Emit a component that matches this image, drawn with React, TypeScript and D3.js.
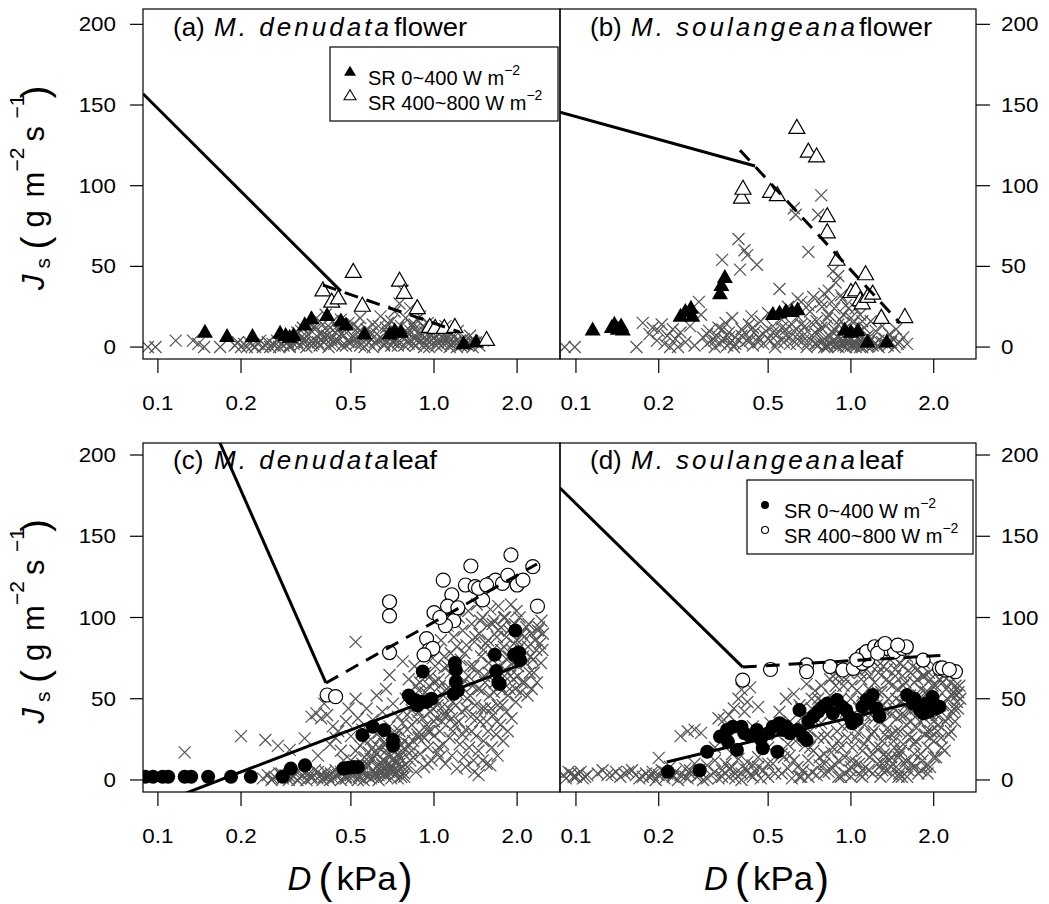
import React from 'react';
import * as d3 from 'd3';

type Pt = [number, number];

const FONT = "'Liberation Sans', Arial, Helvetica, sans-serif";

const yTicks = [0, 50, 100, 150, 200];
const xTicks = [0.1, 0.2, 0.5, 1.0, 2.0];
const xTickLabels = ['0.1', '0.2', '0.5', '1.0', '2.0'];

// ---------- (a) M. denudata flower ----------
const aCross: Pt[] = [
  [0.092, 0], [0.098, 0], [0.116, 4], [0.134, 4], [0.14, 2], [0.147, 0], [0.168, 0],
  [0.19, 1], [0.195, 3], [0.2, 0], [0.205, 2], [0.21, 0], [0.214, 3], [0.22, 1], [0.225, 0], [0.23, 2], [0.235, 4], [0.24, 0], [0.245, 1], [0.25, 3], [0.255, 0], [0.26, 2], [0.265, 1], [0.27, 4], [0.275, 0], [0.28, 2], [0.285, 1],
  [0.29, 5], [0.295, 3], [0.3, 0], [0.305, 7], [0.31, 2], [0.315, 4], [0.32, 9], [0.325, 1], [0.33, 6], [0.335, 12], [0.34, 3], [0.345, 0], [0.35, 8], [0.355, 15], [0.36, 4], [0.365, 2], [0.37, 11], [0.375, 18], [0.38, 6], [0.385, 1], [0.39, 9], [0.395, 14], [0.4, 3], [0.405, 20], [0.41, 7], [0.415, 0], [0.42, 12], [0.425, 5], [0.43, 16], [0.435, 2], [0.44, 9], [0.445, 13], [0.45, 4], [0.46, 17], [0.465, 1], [0.47, 7], [0.48, 11], [0.49, 3], [0.5, 6], [0.51, 14], [0.52, 2], [0.53, 9], [0.54, 18], [0.55, 4], [0.56, 0], [0.57, 11], [0.58, 6], [0.6, 14], [0.61, 3], [0.62, 8], [0.64, 19], [0.65, 5], [0.66, 1], [0.67, 12], [0.69, 7], [0.7, 16], [0.71, 3], [0.72, 22], [0.73, 9], [0.74, 1], [0.75, 27], [0.76, 13], [0.77, 35], [0.78, 5], [0.79, 18], [0.8, 9], [0.81, 2], [0.82, 24], [0.83, 14], [0.84, 6], [0.85, 11], [0.86, 1], [0.87, 17], [0.88, 8], [0.9, 4], [0.91, 13], [0.92, 0], [0.93, 9], [0.95, 15], [0.96, 3], [0.98, 7], [1.0, 11], [1.02, 1], [1.04, 5], [1.06, 9], [1.08, 2], [1.1, 13], [1.12, 6], [1.14, 0], [1.16, 8], [1.19, 3], [1.22, 10], [1.25, 1], [1.28, 5], [1.31, 2], [1.35, 7], [1.38, 0], [1.42, 3], [1.46, 1], [1.5, 4],
];
const aCrossDense: Pt[] = [
  [0.3, 1], [0.32, 3], [0.34, 5], [0.36, 1], [0.38, 3], [0.4, 6], [0.42, 2], [0.44, 4], [0.46, 8], [0.48, 1], [0.5, 3], [0.52, 5], [0.54, 1], [0.56, 7], [0.58, 3], [0.6, 0], [0.62, 4], [0.64, 6], [0.66, 2], [0.68, 9], [0.7, 1], [0.72, 5], [0.74, 3], [0.76, 7], [0.78, 1], [0.8, 4], [0.82, 10], [0.84, 2], [0.86, 6], [0.88, 3], [0.9, 8], [0.92, 2], [0.94, 5], [0.96, 0], [0.98, 4], [1.0, 6], [1.03, 3], [1.06, 1], [1.09, 5], [1.12, 3], [1.15, 2], [1.18, 6], [1.21, 0], [1.24, 4], [1.27, 2], [1.3, 3], [1.33, 1], [1.36, 4],
  [0.33, 10], [0.37, 13], [0.41, 10], [0.45, 11], [0.49, 15], [0.53, 12], [0.59, 9], [0.63, 13], [0.68, 15], [0.74, 12], [0.79, 10], [0.85, 14], [0.89, 19], [0.94, 11], [1.05, 8], [1.1, 7],
];
const aFill: Pt[] = [
  [0.148, 9], [0.178, 6.5], [0.22, 6.5], [0.277, 8.5], [0.29, 7], [0.3, 6], [0.31, 7], [0.34, 13.5], [0.36, 17.5], [0.41, 19.5], [0.46, 16], [0.48, 13.5], [0.56, 8], [0.69, 8], [0.72, 10], [0.76, 9], [1.28, 2], [1.42, 3],
];
const aOpen: Pt[] = [
  [0.396, 35], [0.426, 28], [0.45, 30], [0.51, 46.5], [0.55, 25.5], [0.75, 41], [0.78, 33.5], [0.87, 24], [0.965, 12.4], [1.01, 11.8], [1.09, 11.8], [1.19, 12.4], [1.55, 4.3],
];
const aSolid: Pt[] = [[0.0883, 157], [0.46, 34.7]];
const aDash: Pt[] = [[0.396, 38.4], [1.24, 9.3]];

// ---------- (b) M. soulangeana flower ----------
const bCross: Pt[] = [
  [0.091, 0], [0.099, 0], [0.166, 0], [0.175, 15], [0.185, 8], [0.19, 12], [0.197, 4], [0.2, 10], [0.205, 14], [0.21, 2], [0.215, 7], [0.22, 0], [0.225, 11], [0.23, 5], [0.235, 0], [0.24, 9],
  [0.25, 3], [0.26, 13], [0.27, 1], [0.28, 28], [0.285, 20], [0.29, 6], [0.3, 2], [0.305, 10], [0.31, 4], [0.32, 0], [0.325, 7], [0.33, 12], [0.335, 2], [0.34, 54], [0.345, 5], [0.35, 15], [0.355, 1], [0.36, 9], [0.365, 3], [0.37, 18], [0.375, 0], [0.38, 6], [0.39, 67], [0.395, 48], [0.4, 11], [0.405, 2], [0.41, 60], [0.415, 8], [0.42, 57], [0.425, 14], [0.43, 4], [0.435, 19], [0.44, 1], [0.445, 9], [0.455, 51], [0.46, 6], [0.47, 16], [0.48, 2], [0.49, 10], [0.5, 21], [0.51, 4], [0.52, 13], [0.53, 0], [0.54, 8], [0.55, 36], [0.56, 17], [0.57, 3], [0.58, 11], [0.59, 25], [0.6, 6], [0.61, 14], [0.62, 86], [0.63, 82], [0.635, 2], [0.64, 19], [0.65, 9], [0.66, 28], [0.67, 4], [0.68, 13], [0.69, 0], [0.7, 59], [0.71, 22], [0.72, 7], [0.73, 31], [0.74, 2], [0.75, 16], [0.76, 82], [0.77, 10], [0.78, 94], [0.785, 25], [0.79, 4], [0.8, 33], [0.81, 13], [0.82, 1], [0.83, 20], [0.84, 6], [0.85, 28], [0.86, 47], [0.87, 11], [0.88, 40], [0.89, 3], [0.9, 44], [0.91, 17], [0.92, 8], [0.93, 30], [0.94, 1], [0.96, 12], [0.98, 24], [1.0, 5], [1.02, 15], [1.04, 0], [1.06, 9], [1.08, 20], [1.1, 3], [1.12, 12], [1.15, 7], [1.18, 16], [1.2, 1], [1.23, 10], [1.26, 4], [1.3, 13], [1.34, 2], [1.38, 8], [1.42, 5], [1.46, 11], [1.5, 3], [1.55, 6], [1.6, 2],
  [0.85, 2], [0.9, 0], [0.95, 3], [1.0, 1], [1.05, 2], [1.1, 0], [1.15, 2], [1.25, 1], [0.8, 0], [0.75, 2],
];
const bCrossDense: Pt[] = [
  [0.76, 1], [0.78, 3], [0.8, 5], [0.82, 0], [0.84, 2], [0.86, 4], [0.88, 1], [0.9, 6], [0.92, 2], [0.94, 4], [0.96, 0], [0.98, 3], [1.0, 5], [1.02, 1], [1.04, 3], [1.06, 6], [1.08, 0], [1.1, 2], [1.12, 4], [1.14, 1], [1.16, 3], [1.18, 5], [1.22, 2], [1.26, 0], [1.3, 3], [1.33, 5], [1.36, 1], [1.4, 3], [1.44, 0], [1.48, 2],
  [0.3, 8], [0.32, 4], [0.34, 11], [0.36, 6], [0.38, 2], [0.4, 7], [0.42, 4], [0.44, 12], [0.46, 3], [0.48, 8], [0.5, 5], [0.52, 9], [0.54, 3], [0.56, 12], [0.58, 7], [0.6, 2], [0.62, 10], [0.64, 5], [0.66, 14], [0.68, 8], [0.7, 3], [0.72, 15], [0.74, 9], [0.78, 12], [0.82, 18], [0.86, 9], [0.9, 14], [0.94, 20], [0.97, 7], [1.03, 10], [0.92, 32], [0.96, 26], [1.0, 18], [1.04, 24], [1.1, 16], [0.87, 24], [0.83, 35], [0.78, 28], [0.7, 26], [0.64, 30],
];
const bFill: Pt[] = [
  [0.115, 10.5], [0.135, 12], [0.138, 14], [0.142, 11], [0.146, 13], [0.148, 10.5], [0.24, 19], [0.25, 22], [0.262, 24], [0.265, 19], [0.334, 33], [0.338, 38], [0.348, 43], [0.52, 20], [0.55, 21], [0.58, 22], [0.61, 22], [0.64, 23], [0.95, 10.5], [1.0, 9], [1.06, 10], [1.15, 3], [1.35, 3],
];
const bOpen: Pt[] = [
  [0.4, 92.5], [0.405, 98], [0.51, 96], [0.54, 94], [0.636, 135.7], [0.7, 121], [0.75, 118], [0.82, 81], [0.82, 71], [0.89, 54], [1.0, 34], [1.04, 35], [1.08, 29], [1.1, 27], [1.13, 45], [1.15, 31], [1.2, 33], [1.29, 18], [1.57, 18.5],
];
const bSolid: Pt[] = [[0.0875, 145.6], [0.448, 112.2]];
const bDash: Pt[] = [[0.395, 122], [1.507, 14.9]];

// ---------- (c) M. denudata leaf ----------
const cCross: Pt[] = [
  [0.125, 17], [0.2, 27], [0.245, 24.6], [0.272, 21], [0.3, 18.5], [0.34, 25.6],
  [0.24, 1], [0.25, 3], [0.258, 0], [0.265, 2], [0.275, 4], [0.283, 1], [0.29, 3], [0.298, 0], [0.31, 2], [0.318, 5], [0.327, 1], [0.335, 3], [0.345, 0], [0.352, 4], [0.36, 2], [0.37, 6], [0.378, 1], [0.388, 3], [0.395, 0], [0.405, 5], [0.414, 2], [0.423, 4], [0.432, 1], [0.44, 6], [0.45, 3], [0.46, 0], [0.47, 5], [0.48, 2], [0.49, 7], [0.5, 1], [0.51, 4], [0.52, 8], [0.535, 2], [0.545, 5], [0.555, 0], [0.565, 3], [0.575, 9], [0.59, 1], [0.6, 6], [0.615, 3], [0.63, 0], [0.64, 4], [0.655, 7], [0.67, 2], [0.685, 5], [0.7, 1], [0.72, 3], [0.74, 6], [0.76, 2], [0.78, 4],
  [0.36, 39], [0.375, 41], [0.39, 38], [0.41, 40], [0.4, 47], [0.43, 33], [0.44, 26], [0.45, 30], [0.46, 18], [0.47, 12], [0.38, 15], [0.42, 22], [0.48, 36], [0.49, 44], [0.5, 27],
  [0.52, 50], [0.52, 85], [0.53, 38], [0.54, 21], [0.55, 31], [0.56, 14], [0.57, 44], [0.58, 9], [0.59, 25], [0.6, 37], [0.61, 17], [0.62, 52], [0.63, 29], [0.64, 11], [0.65, 42], [0.66, 22], [0.67, 56], [0.68, 15], [0.69, 64.6], [0.69, 33], [0.7, 19], [0.71, 47], [0.72, 13], [0.73, 26], [0.74, 39], [0.75, 10], [0.76, 21], [0.77, 73], [0.77, 35], [0.58, 17], [0.62, 8], [0.66, 12], [0.7, 9], [0.74, 16],
  [0.6, 13], [0.63, 20], [0.65, 5], [0.67, 18], [0.69, 7], [0.71, 24], [0.73, 4], [0.75, 14], [0.77, 8], [0.79, 19], [0.72, 28],
  [0.79, 50], [0.8, 31], [0.81, 62], [0.82, 12], [0.83, 43], [0.84, 24], [0.85, 70], [0.86, 5], [0.87, 37], [0.88, 55], [0.89, 16], [0.9, 28], [0.91, 48], [0.92, 8], [0.93, 66], [0.94, 34], [0.95, 20], [0.96, 58], [0.97, 42], [0.98, 12], [0.99, 75], [1.0, 27], [1.01, 50], [1.02, 38], [1.03, 17], [1.04, 62], [1.05, 30], [1.06, 86], [1.07, 45], [1.08, 22], [1.09, 69], [1.1, 10], [0.8, 40], [0.83, 18], [0.86, 58], [0.88, 26], [0.9, 66], [0.93, 45], [0.95, 10], [0.97, 30], [1.0, 60], [1.03, 80], [1.05, 14], [1.08, 52],
  [1.11, 40], [1.12, 95], [1.13, 57], [1.14, 26], [1.15, 78], [1.16, 15], [1.17, 48], [1.18, 88], [1.19, 34], [1.2, 65], [1.21, 7], [1.22, 53], [1.23, 100], [1.24, 22], [1.25, 74], [1.26, 42], [1.27, 92], [1.28, 14], [1.29, 61], [1.3, 31], [1.31, 83], [1.32, 50], [1.33, 104], [1.34, 20], [1.35, 70], [1.36, 39], [1.37, 96], [1.38, 58], [1.39, 12], [1.4, 85], [1.41, 46], [1.42, 27], [1.43, 108], [1.44, 66], [1.45, 18], [1.46, 90], [1.47, 36], [1.48, 76], [1.49, 55], [1.5, 100], [1.51, 24], [1.52, 64], [1.53, 44], [1.54, 84], [1.55, 10], [1.56, 95], [1.57, 30], [1.58, 72], [1.59, 52], [1.6, 105],
  [1.3, 8], [1.4, 5], [1.5, 12], [1.6, 9], [1.7, 15], [1.45, 3],
  [1.62, 20], [1.63, 80], [1.64, 40], [1.65, 98], [1.66, 60], [1.68, 28], [1.69, 88], [1.7, 46], [1.71, 107], [1.72, 70], [1.74, 34], [1.75, 94], [1.76, 55], [1.78, 24], [1.79, 82], [1.8, 64], [1.81, 100], [1.83, 42], [1.84, 74], [1.85, 30], [1.87, 92], [1.88, 56], [1.9, 108], [1.91, 38], [1.92, 80], [1.94, 62], [1.96, 96], [1.98, 48], [2.0, 86], [2.02, 70], [2.04, 100], [2.06, 54], [2.08, 90], [2.1, 76], [2.13, 60], [2.16, 94], [2.19, 82], [2.22, 66], [2.25, 90], [2.28, 74], [2.32, 86], [2.36, 60], [2.4, 94], [2.44, 72], [2.48, 90], [2.45, 98],
];
const cCrossDense: Pt[] = [
  [0.26, 1], [0.28, 4], [0.3, 2], [0.32, 0], [0.34, 4], [0.36, 1], [0.38, 5], [0.4, 2], [0.42, 0], [0.44, 3], [0.46, 5], [0.48, 1], [0.5, 3], [0.53, 0], [0.56, 6], [0.6, 2], [0.66, 4], [0.7, 7], [0.74, 1], [0.78, 2],
  [0.5, 12], [0.52, 18], [0.54, 6], [0.56, 24], [0.58, 2], [0.6, 20], [0.62, 16], [0.64, 26], [0.66, 6], [0.68, 10], [0.7, 28], [0.72, 20], [0.74, 9], [0.76, 13], [0.78, 24], [0.8, 8], [0.61, 4], [0.65, 9], [0.69, 14], [0.73, 11], [0.77, 17], [0.55, 10], [0.59, 13], [0.63, 3], [0.67, 22], [0.71, 5], [0.75, 30],
  [0.81, 22], [0.83, 34], [0.85, 46], [0.87, 28], [0.89, 60], [0.91, 38], [0.93, 54], [0.95, 30], [0.97, 64], [0.99, 44], [1.01, 70], [1.03, 46], [1.05, 58], [1.07, 36], [1.09, 76], [1.11, 56], [1.13, 44], [1.15, 66], [1.17, 30], [1.19, 56], [0.84, 14], [0.88, 42], [0.92, 26], [0.96, 50], [1.0, 36], [1.04, 20], [1.08, 40], [1.12, 70], [1.16, 38], [1.2, 46],
  [1.21, 82], [1.23, 36], [1.25, 58], [1.27, 28], [1.29, 78], [1.31, 44], [1.33, 64], [1.35, 52], [1.37, 30], [1.39, 70], [1.41, 88], [1.43, 38], [1.45, 56], [1.47, 98], [1.49, 44], [1.51, 80], [1.53, 60], [1.55, 36], [1.57, 86], [1.59, 66], [1.61, 44], [1.63, 96], [1.65, 54], [1.67, 76], [1.69, 36], [1.71, 92], [1.73, 58], [1.75, 80], [1.77, 46], [1.79, 100], [1.81, 68], [1.83, 88], [1.85, 52], [1.87, 76], [1.89, 64], [1.91, 94], [1.93, 72], [1.95, 84], [1.97, 56], [1.99, 104],
  [2.01, 64], [2.05, 82], [2.09, 60], [2.12, 88], [2.15, 72], [2.2, 96], [2.24, 76], [2.3, 66], [2.35, 80], [2.42, 84], [2.47, 80], [2.38, 92], [2.26, 56], [2.18, 52],
];
const cFill: Pt[] = [
  [0.09, 2], [0.096, 2], [0.104, 2], [0.109, 2], [0.125, 2], [0.132, 2], [0.152, 2], [0.184, 2], [0.217, 2], [0.283, 2], [0.303, 7], [0.341, 9], [0.47, 7], [0.49, 7.5], [0.51, 8], [0.53, 8], [0.55, 27.7], [0.6, 32.8], [0.66, 30.8], [0.71, 24.6], [0.71, 21], [0.81, 52], [0.83, 50], [0.86, 49], [0.87, 46], [0.9, 48], [0.94, 48], [0.98, 50], [0.91, 66.7], [1.19, 72], [1.2, 67.7], [1.2, 60.5], [1.22, 55], [1.18, 53], [1.66, 77], [1.68, 67], [1.71, 60], [1.73, 59], [1.97, 92], [1.95, 77], [2.03, 78.5], [2.05, 73.8],
];
const cOpen: Pt[] = [
  [0.41, 52.3], [0.44, 51.3], [0.69, 109.7], [0.69, 101], [0.69, 78.4], [0.94, 87], [0.96, 80], [0.99, 81], [0.92, 77], [1.0, 103], [1.08, 123], [1.16, 114], [1.12, 107], [1.18, 98], [1.1, 95], [1.22, 106], [1.3, 120], [1.36, 131.7], [1.41, 119], [1.5, 110.8], [1.6, 121], [1.67, 123], [1.77, 121], [1.85, 126], [1.9, 138.5], [2.0, 120], [2.1, 123], [2.28, 131.3], [2.37, 107], [1.45, 118], [1.55, 120], [1.05, 100],
];
const cSolid: Pt[] = [[0.16, 215.4], [0.406, 59.7]];
const cDash: Pt[] = [[0.406, 59.7], [2.36, 132.9]];
const cLow: Pt[] = [[0.118, -10], [2.05, 70.8]];

// ---------- (d) M. soulangeana leaf ----------
const dCross: Pt[] = [
  [0.09, 3], [0.094, 5], [0.098, 2], [0.102, 4], [0.106, 1], [0.11, 3],
  [0.12, 4], [0.125, 6], [0.13, 3], [0.14, 5], [0.145, 2], [0.15, 4], [0.16, 6], [0.165, 3], [0.17, 1], [0.18, 4],
  [0.185, 2], [0.19, 5], [0.195, 0], [0.2, 13.6], [0.2, 3], [0.205, 6], [0.21, 1], [0.215, 4], [0.22, 8], [0.225, 2], [0.23, 5],
  [0.235, 0], [0.24, 3], [0.25, 7], [0.255, 1], [0.26, 4], [0.27, 10], [0.275, 2], [0.28, 6], [0.29, 0], [0.3, 9], [0.31, 3], [0.32, 12], [0.33, 1], [0.34, 6], [0.35, 10], [0.36, 2], [0.37, 8], [0.38, 4], [0.39, 13], [0.4, 0], [0.41, 7], [0.42, 11], [0.43, 3], [0.44, 9], [0.45, 5], [0.46, 14], [0.47, 1],
  [0.24, 27], [0.255, 30], [0.27, 31], [0.285, 29], [0.33, 38], [0.345, 37], [0.36, 40], [0.375, 44], [0.39, 50], [0.4, 55.6], [0.42, 48], [0.43, 57], [0.41, 42], [0.38, 30], [0.35, 22], [0.44, 33], [0.46, 45], [0.32, 20], [0.37, 16],
  [0.5, 20], [0.52, 10], [0.54, 28], [0.56, 4], [0.58, 50], [0.6, 15], [0.62, 53], [0.64, 8], [0.66, 38], [0.68, 21], [0.69, 59], [0.7, 12], [0.72, 44], [0.74, 55], [0.75, 3], [0.76, 26], [0.78, 35], [0.8, 16], [0.48, 6], [0.51, 35], [0.55, 42], [0.57, 14], [0.61, 1], [0.63, 24], [0.65, 46], [0.67, 6], [0.71, 30], [0.73, 18], [0.77, 9], [0.79, 48], [0.5, 2], [0.59, 7], [0.66, 2], [0.72, 5],
  [0.82, 28], [0.83, 5], [0.84, 52], [0.85, 17], [0.86, 64], [0.87, 38], [0.88, 9], [0.89, 46], [0.9, 24], [0.91, 70], [0.92, 2], [0.93, 33], [0.94, 58], [0.95, 14], [0.96, 42], [0.97, 26], [0.98, 66], [0.99, 6], [1.0, 50], [1.01, 20], [1.02, 36], [1.03, 72], [1.04, 11], [1.05, 55], [1.06, 29], [1.07, 44], [1.08, 3], [1.09, 62], [1.1, 18], [1.11, 48], [1.12, 34], [1.13, 8], [1.14, 68], [1.15, 25], [1.16, 56], [1.17, 14], [1.18, 40], [1.19, 74], [1.2, 4], [1.21, 30], [1.22, 60], [1.23, 20], [1.24, 46], [1.25, 10], [1.26, 66], [1.27, 36], [1.28, 2], [1.29, 54], [1.3, 24], [1.31, 70], [1.32, 16], [1.33, 42], [1.34, 6], [1.35, 62], [1.36, 32], [1.37, 50], [1.38, 12], [1.39, 74], [1.4, 28], [1.41, 58], [1.42, 3], [1.43, 44], [1.44, 20], [1.45, 68], [1.46, 8], [1.47, 38], [1.48, 56], [1.49, 14], [1.5, 72], [1.51, 30], [1.52, 48], [1.53, 2], [1.54, 64], [1.55, 22], [1.56, 40], [1.57, 10], [1.58, 60], [1.59, 34], [1.6, 76], [1.62, 6], [1.64, 52], [1.66, 26], [1.68, 70], [1.7, 16], [1.72, 44], [1.74, 62], [1.76, 4], [1.78, 36], [1.8, 56], [1.82, 12], [1.84, 72], [1.86, 28], [1.88, 48], [1.9, 20], [1.92, 66], [1.94, 8], [1.96, 40], [1.98, 58], [2.0, 24], [2.02, 70], [2.04, 14], [2.06, 50], [2.08, 34], [2.1, 62], [2.13, 26], [2.16, 46], [2.19, 18], [2.22, 56], [2.25, 38], [2.28, 64], [2.31, 30], [2.34, 52], [2.37, 44], [2.4, 58], [2.43, 48], [2.46, 54], [2.5, 50],
  [0.62, 32], [0.7, 40], [0.76, 50], [0.85, 8], [0.92, 20], [1.0, 12], [1.05, 38], [1.12, 22], [1.2, 52], [1.27, 44], [1.33, 28], [1.4, 14], [1.46, 30], [1.52, 18], [1.58, 46], [1.65, 36], [1.72, 24], [1.8, 42], [1.87, 54], [1.95, 30], [2.05, 40], [2.15, 60], [0.88, 58], [0.96, 62], [1.08, 66], [1.17, 64], [1.25, 70], [1.35, 68], [1.45, 64], [1.55, 70], [1.65, 66], [1.75, 68], [1.85, 64], [1.95, 62], [1.1, 6], [1.3, 10], [1.5, 4], [1.7, 8], [1.9, 4], [0.8, 4], [0.9, 12], [1.0, 2],
];
const dCrossDense: Pt[] = [
  [0.092, 1], [0.096, 4], [0.1, 2], [0.104, 5], [0.108, 2], [0.135, 3], [0.155, 5], [0.175, 2], [0.19, 3], [0.21, 5], [0.225, 3], [0.25, 2], [0.26, 6], [0.28, 3], [0.3, 1], [0.32, 5], [0.34, 2], [0.36, 7], [0.38, 1], [0.4, 4], [0.42, 6], [0.44, 2], [0.46, 8],
  [0.5, 10], [0.53, 4], [0.56, 16], [0.59, 22], [0.62, 12], [0.65, 2], [0.68, 30], [0.71, 20], [0.74, 36], [0.77, 14], [0.8, 26], [0.83, 40], [0.86, 20], [0.89, 30], [0.92, 50], [0.95, 4], [0.98, 34], [1.01, 58], [1.04, 26], [1.07, 10], [1.1, 52], [1.13, 40], [1.16, 6], [1.19, 28], [1.22, 38], [1.25, 54], [1.28, 20], [1.31, 46], [1.34, 14], [1.37, 60], [1.4, 40], [1.43, 24], [1.46, 50], [1.49, 2], [1.52, 40], [1.55, 58], [1.58, 12], [1.61, 28], [1.64, 42], [1.67, 10], [1.7, 60], [1.73, 32], [1.76, 52], [1.79, 16], [1.82, 64], [1.85, 38], [1.88, 8], [1.91, 54], [1.94, 26], [1.97, 46], [2.0, 14], [2.03, 58], [2.07, 30], [2.11, 46], [2.14, 20], [2.18, 64], [2.21, 36], [2.24, 50], [2.27, 28], [2.3, 60], [2.33, 42], [2.36, 54], [2.39, 36], [2.42, 52], [2.45, 44], [2.48, 58],
  [0.9, 2], [1.0, 8], [1.1, 2], [1.2, 16], [1.3, 6], [1.4, 8], [1.5, 16], [1.6, 2], [1.7, 22], [1.8, 6], [1.9, 30], [2.0, 36], [0.6, 36], [0.66, 44], [0.72, 50], [0.78, 58], [0.84, 62], [0.9, 64], [0.7, 2], [0.8, 10],
];
const dFill: Pt[] = [
  [0.216, 5], [0.282, 6], [0.3, 17.4], [0.334, 26.7], [0.354, 30.8], [0.372, 32.8], [0.4, 32.8], [0.41, 28.7], [0.357, 23.6], [0.385, 18.5], [0.455, 30.8], [0.478, 19.5], [0.54, 17.4], [0.5, 28.7], [0.52, 32.8], [0.55, 34.9], [0.566, 30.8], [0.6, 28.7], [0.64, 30.8], [0.67, 26.7], [0.69, 24.6], [0.65, 43], [0.73, 39], [0.82, 47], [0.89, 49.2], [0.93, 45], [0.99, 39], [1.01, 34.9], [1.14, 49.2], [1.2, 52.3], [1.24, 44], [1.27, 39], [1.17, 47], [1.6, 52.3], [1.68, 47], [1.78, 43], [1.88, 47], [1.98, 51], [2.04, 44], [2.1, 45], [1.83, 41],
  [0.43, 27], [0.47, 25], [0.58, 33], [0.7, 36], [0.76, 42], [0.79, 45], [0.86, 41], [0.96, 43], [1.05, 37], [1.1, 45], [1.7, 50], [1.92, 42], [2.0, 47],
];
const dOpen: Pt[] = [
  [0.404, 61.5], [0.51, 68], [0.69, 70.8], [0.69, 66.7], [0.84, 69.8], [0.935, 67.7], [1.02, 68.7], [1.1, 71.8], [1.15, 73.8], [1.1, 77], [1.14, 79], [1.22, 82], [1.29, 82], [1.36, 81], [1.44, 79], [1.54, 81], [1.59, 82], [1.83, 73.8], [2.1, 68.7], [2.2, 67.7], [2.4, 66.7], [1.05, 74], [1.25, 78], [1.33, 84], [1.48, 83], [2.15, 69], [2.28, 68],
];
const dSolid: Pt[] = [[0.0875, 179.7], [0.404, 69.5]];
const dDash: Pt[] = [[0.404, 69.5], [2.25, 76.9]];
const dLow: Pt[] = [[0.214, 11.1], [1.905, 49.8]];

type Scale = (v: number) => number;

function crossPath(cx: number, cy: number) {
  const r = 6;
  return `M${cx - r},${cy - r}L${cx + r},${cy + r}M${cx - r},${cy + r}L${cx + r},${cy - r}`;
}
function triPath(cx: number, cy: number, w = 16, h = 14) {
  return `M${cx},${cy - h * 0.62}L${cx - w / 2},${cy + h * 0.38}L${cx + w / 2},${cy + h * 0.38}Z`;
}

interface PanelProps {
  id: string;
  x: Scale; y: Scale;
  x0: number; x1: number; y0: number; y1: number;
  cross: Pt[]; fill: Pt[]; open: Pt[];
  shape: 'tri' | 'circ';
  solids: Pt[][]; dashes: Pt[][];
}

function Panel(p: PanelProps) {
  const clip = `clip-${p.id}`;
  const line = d3.line<Pt>().x(d => p.x(d[0])).y(d => p.y(d[1]));
  return (
    <g>
      <defs>
        <clipPath id={clip}>
          <rect x={p.x0} y={p.y0} width={p.x1 - p.x0} height={p.y1 - p.y0} />
        </clipPath>
      </defs>
      <g clipPath={`url(#${clip})`}>
        <g stroke="#555" strokeWidth={1.25} fill="none">
          {p.cross.map((d, i) => <path key={i} d={crossPath(p.x(d[0]), p.y(d[1]))} />)}
        </g>
        <g fill="#000">
          {p.fill.map((d, i) => p.shape === 'tri'
            ? <path key={i} d={triPath(p.x(d[0]), p.y(d[1]))} />
            : <circle key={i} cx={p.x(d[0])} cy={p.y(d[1])} r={7} />)}
        </g>
        <g fill="#fff" stroke="#000" strokeWidth={1.2}>
          {p.open.map((d, i) => p.shape === 'tri'
            ? <path key={i} d={triPath(p.x(d[0]), p.y(d[1]))} />
            : <circle key={i} cx={p.x(d[0])} cy={p.y(d[1])} r={7} />)}
        </g>
        {p.solids.map((s, i) => <path key={'s' + i} d={line(s) || ''} stroke="#000" strokeWidth={3} fill="none" />)}
        {p.dashes.map((s, i) => <path key={'d' + i} d={line(s) || ''} stroke="#000" strokeWidth={3} fill="none" strokeDasharray="14 9" />)}
      </g>
      <rect x={p.x0} y={p.y0} width={p.x1 - p.x0} height={p.y1 - p.y0} fill="none" stroke="#000" strokeWidth={1.2} />
    </g>
  );
}

function Title({ x, y, tag, sp, spEnd, word, wordX, wordEnd }: { x: number; y: number; tag: string; sp: string; spEnd: number; word: string; wordX: number; wordEnd: number }) {
  const spX = x + 41;
  return (
    <g fontFamily={FONT} fontSize={26} fill="#000">
      <text x={x} y={y}>{tag}</text>
      <text x={spX} y={y} fontStyle="italic" textLength={spEnd - spX} lengthAdjust="spacing">{sp}</text>
      <text x={wordX} y={y} textLength={wordEnd - wordX} lengthAdjust="spacingAndGlyphs">{word}</text>
    </g>
  );
}

function YLabel({ cy }: { cy: number }) {
  return (
    <g transform={`translate(44,${cy}) rotate(-90)`} fontFamily={FONT} fill="#000">
      <text x={-103.5} y={0} fontSize={31} fontStyle="italic">J</text>
      <text x={-82} y={6} fontSize={21}>s</text>
      <text x={-63} y={4} fontSize={39}>(</text>
      <text x={-41} y={0} fontSize={31}>g</text>
      <text x={-11} y={0} fontSize={31}>m</text>
      <text x={15} y={-20} fontSize={21}>−2</text>
      <text x={45} y={0} fontSize={31}>s</text>
      <text x={68} y={-20} fontSize={21}>−1</text>
      <text x={88} y={4} fontSize={39}>)</text>
    </g>
  );
}

function XLabel({ cx }: { cx: number }) {
  return (
    <g fontFamily={FONT} fill="#000">
      <text x={cx - 64} y={890} fontSize={33} fontStyle="italic">D</text>
      <text x={cx - 33} y={893} fontSize={42}>(</text>
      <text x={cx - 15} y={890} fontSize={33} textLength={60} lengthAdjust="spacingAndGlyphs">kPa</text>
      <text x={cx + 47} y={893} fontSize={42}>)</text>
    </g>
  );
}

export default function App() {
  const W = 1049, H = 904;
  const L0 = 143, M = 560, R1 = 976;
  const T0 = 9, T1 = 359, B0 = 443, B1 = 792;
  const xL = d3.scaleLog().domain([0.0883, 2.86]).range([L0, M]);
  const xR = d3.scaleLog().domain([0.0875, 2.85]).range([M, R1]);
  const yT = d3.scaleLinear().domain([-7.4, 209.5]).range([T1, T0]);
  const yB = d3.scaleLinear().domain([-7.4, 207.4]).range([B1, B0]);

  const tickFont = 20;
  const sx = 1.12;

  const yAxis = (y: Scale, side: 'l' | 'r') => (
    <g fontFamily={FONT} fontSize={tickFont} fill="#000">
      {yTicks.map(v => {
        const yy = y(v);
        return (
          <g key={v}>
            {side === 'l'
              ? <line x1={130} x2={L0} y1={yy} y2={yy} stroke="#000" strokeWidth={1.2} />
              : <line x1={R1} x2={990} y1={yy} y2={yy} stroke="#000" strokeWidth={1.2} />}
            <text transform={`translate(${side === 'l' ? 116 : 1001},${yy + 7}) scale(${sx},1)`} textAnchor={side === 'l' ? 'end' : 'start'}>{v}</text>
          </g>
        );
      })}
    </g>
  );

  const xAxis = (x: Scale, yb: number) => (
    <g fontFamily={FONT} fontSize={tickFont} fill="#000">
      {xTicks.map((v, i) => {
        const xx = x(v);
        return (
          <g key={v}>
            <line x1={xx} x2={xx} y1={yb} y2={yb + 14} stroke="#000" strokeWidth={1.2} />
            <text transform={`translate(${xx},${yb + 51}) scale(${sx},1)`} textAnchor="middle">{xTickLabels[i]}</text>
          </g>
        );
      })}
    </g>
  );

  return (
    <svg width={W} height={H} viewBox={`0 0 ${W} ${H}`} style={{ position: 'absolute', left: 0, top: 0, background: '#fff' }}>
      <rect x={0} y={0} width={W} height={H} fill="#fff" />
      <Panel id="a" x={xL} y={yT} x0={L0} x1={M} y0={T0} y1={T1} cross={aCross.concat(aCrossDense)} fill={aFill} open={aOpen} shape="tri" solids={[aSolid]} dashes={[aDash]} />
      <Panel id="b" x={xR} y={yT} x0={M} x1={R1} y0={T0} y1={T1} cross={bCross.concat(bCrossDense)} fill={bFill} open={bOpen} shape="tri" solids={[bSolid]} dashes={[bDash]} />
      <Panel id="c" x={xL} y={yB} x0={L0} x1={M} y0={B0} y1={B1} cross={cCross.concat(cCrossDense)} fill={cFill} open={cOpen} shape="circ" solids={[cSolid, cLow]} dashes={[cDash]} />
      <Panel id="d" x={xR} y={yB} x0={M} x1={R1} y0={B0} y1={B1} cross={dCross.concat(dCrossDense)} fill={dFill} open={dOpen} shape="circ" solids={[dSolid, dLow]} dashes={[dDash]} />

      {yAxis(yT, 'l')}
      {yAxis(yB, 'l')}
      {yAxis(yT, 'r')}
      {yAxis(yB, 'r')}
      {xAxis(xL, T1)}
      {xAxis(xR, T1)}
      {xAxis(xL, B1)}
      {xAxis(xR, B1)}

      <Title x={173} y={36} tag="(a)" sp="M. denudata" spEnd={389} word="flower" wordX={394} wordEnd={467} />
      <Title x={590} y={36} tag="(b)" sp="M. soulangeana" spEnd={855} word="flower" wordX={859} wordEnd={932} />
      <Title x={173} y={469} tag="(c)" sp="M. denudata" spEnd={389} word="leaf" wordX={392} wordEnd={437} />
      <Title x={590} y={469} tag="(d)" sp="M. soulangeana" spEnd={855} word="leaf" wordX={859} wordEnd={903} />

      {/* legend (a) */}
      <g fontFamily={FONT} fill="#000">
        <rect x={330} y={47} width={228} height={74} fill="#fff" stroke="#000" strokeWidth={1.2} />
        <path d={triPath(350, 72, 12, 10)} fill="#000" />
        <path d={triPath(350, 96, 12, 10)} fill="#fff" stroke="#000" strokeWidth={1.1} />
        <text x={368} y={85} fontSize={20}>SR 0~400 W m<tspan dy={-10} fontSize={14}>−2</tspan></text>
        <text x={368} y={110} fontSize={20}>SR 400~800 W m<tspan dy={-10} fontSize={14}>−2</tspan></text>
      </g>
      {/* legend (d) */}
      <g fontFamily={FONT} fill="#000">
        <rect x={747} y={480} width={226} height={74} fill="#fff" stroke="#000" strokeWidth={1.2} />
        <circle cx={765} cy={505} r={4} fill="#000" />
        <circle cx={765} cy={530} r={3.5} fill="#fff" stroke="#000" strokeWidth={1.1} />
        <text x={784} y={518} fontSize={20}>SR 0~400 W m<tspan dy={-10} fontSize={14}>−2</tspan></text>
        <text x={784} y={543} fontSize={20}>SR 400~800 W m<tspan dy={-10} fontSize={14}>−2</tspan></text>
      </g>

      <YLabel cy={186.5} />
      <YLabel cy={620} />
      <XLabel cx={351.5} />
      <XLabel cx={768} />
    </svg>
  );
}
